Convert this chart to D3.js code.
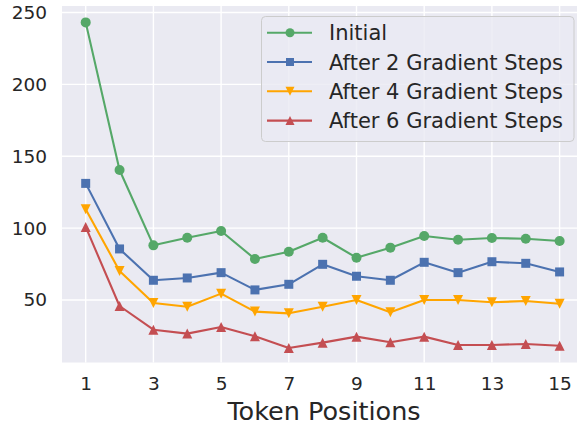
<!DOCTYPE html>
<html>
<head>
<meta charset="utf-8">
<script src="https://cdn.jsdelivr.net/npm/d3@7/dist/d3.min.js"></script>
<style>
  html, body { margin: 0; padding: 0; background: #ffffff; overflow: hidden; }
  svg { display: block; font-family: "DejaVu Sans", sans-serif; }
</style>
</head>
<body>
<svg id="chart" width="577" height="424"></svg>
<script>
// Token positions along the sequence
const positions = [1, 2, 3, 4, 5, 6, 7, 8, 9, 10, 11, 12, 13, 14, 15];

// Loss per token position at each stage of adaptation
const initial = [243.1, 140.4, 88.0, 93.3, 98.0, 78.5, 83.6, 93.3, 79.4, 86.4, 94.5, 91.9, 93.1, 92.6, 91.0];
const after2 = [131.1, 85.5, 63.7, 65.3, 69.0, 57.0, 60.9, 74.8, 66.5, 63.7, 76.2, 69.0, 76.6, 75.5, 69.5];
const after4 = [113.1, 70.2, 47.9, 45.3, 54.4, 41.9, 40.7, 45.3, 50.0, 41.4, 50.0, 50.0, 48.4, 49.3, 47.4];
const after6 = [100.8, 45.8, 29.3, 26.6, 31.2, 24.8, 16.6, 20.3, 24.5, 20.6, 24.5, 18.7, 18.7, 19.4, 18.2];

const seriesNames = ["Initial", "After 2 Gradient Steps", "After 4 Gradient Steps", "After 6 Gradient Steps"];
const xTicks = [1, 3, 5, 7, 9, 11, 13, 15];
const yTicks = [50, 100, 150, 200, 250];
const xLabel = "Token Positions";

const series = [
  { name: seriesNames[0], values: initial, color: "#55A868", marker: "circle" },
  { name: seriesNames[1], values: after2,  color: "#4C72B0", marker: "square" },
  { name: seriesNames[2], values: after4,  color: "#FFA500", marker: "down" },
  { name: seriesNames[3], values: after6,  color: "#C44E52", marker: "up" }
];

const svg = d3.select("#chart");
const plot = { left: 62, top: 6, right: 583.3, bottom: 362.5 };

const x = d3.scaleLinear().domain([0.3, 15.7]).range([plot.left, plot.right]);
const y = d3.scaleLinear().domain([6.5, 254.5]).range([plot.bottom, plot.top]);

const textColor = "#262626";

// axes background
svg.append("rect")
  .attr("x", plot.left).attr("y", plot.top)
  .attr("width", plot.right - plot.left).attr("height", plot.bottom - plot.top)
  .attr("fill", "#EAEAF2");

// grid lines
const grid = svg.append("g");
grid.selectAll("line.gy").data(yTicks).join("line")
  .attr("x1", plot.left).attr("x2", plot.right)
  .attr("y1", d => y(d)).attr("y2", d => y(d))
  .attr("stroke", "#ffffff").attr("stroke-width", 1.4);
grid.selectAll("line.gx").data(xTicks).join("line")
  .attr("y1", plot.top).attr("y2", plot.bottom)
  .attr("x1", d => x(d)).attr("x2", d => x(d))
  .attr("stroke", "#ffffff").attr("stroke-width", 1.4);

// axes (tick labels only, darkgrid style)
const yAxis = svg.append("g")
  .attr("transform", `translate(${plot.left},0)`)
  .call(d3.axisLeft(y).tickValues(yTicks).tickSize(0).tickPadding(15));
yAxis.select(".domain").remove();
yAxis.selectAll("text").attr("fill", textColor).style("font-size", "18.5px")
  .style("font-family", "DejaVu Sans");

const xAxis = svg.append("g")
  .attr("transform", `translate(0,${plot.bottom})`)
  .call(d3.axisBottom(x).tickValues(xTicks).tickSize(0).tickPadding(14));
xAxis.select(".domain").remove();
xAxis.selectAll("text").attr("fill", textColor).style("font-size", "18.5px")
  .style("font-family", "DejaVu Sans");

svg.append("text")
  .attr("x", 324).attr("y", 419.5)
  .attr("text-anchor", "middle")
  .attr("fill", textColor)
  .style("font-size", "25.5px")
  .text(xLabel);

// marker shapes
function markerPath(kind, s) {
  if (kind === "circle") return d3.symbol(d3.symbolCircle, Math.PI * s * s / 4)();
  if (kind === "square") return `M${-s/2},${-s/2}H${s/2}V${s/2}H${-s/2}Z`;
  if (kind === "down") return `M${-s/2},${-s/2}H${s/2}L0,${s/2}Z`;
  return `M${-s/2},${s/2}H${s/2}L0,${-s/2}Z`;
}
const markerSize = { circle: 10, square: 9, down: 10, up: 10 };

const line = d3.line().x((d, i) => x(positions[i])).y(d => y(d));

const marks = svg.append("g");
series.forEach(s => {
  const g = marks.append("g");
  g.append("path")
    .attr("d", line(s.values))
    .attr("fill", "none")
    .attr("stroke", s.color)
    .attr("stroke-width", 2.1)
    .attr("stroke-linejoin", "round");
  g.selectAll("path.m").data(s.values).join("path")
    .attr("class", "m")
    .attr("transform", (d, i) => `translate(${x(positions[i])},${y(d)})`)
    .attr("d", markerPath(s.marker, markerSize[s.marker]))
    .attr("fill", s.color);
});

// legend
const legend = svg.append("g");
legend.append("rect")
  .attr("x", 261.5).attr("y", 16.5)
  .attr("width", 312.5).attr("height", 125)
  .attr("rx", 4).attr("ry", 4)
  .attr("fill", "#EAEAF2").attr("fill-opacity", 0.8)
  .attr("stroke", "#CCCCCC").attr("stroke-width", 1);

series.forEach((s, i) => {
  const cy = 32.7 + i * 29.3;
  legend.append("line")
    .attr("x1", 267).attr("x2", 312)
    .attr("y1", cy).attr("y2", cy)
    .attr("stroke", s.color).attr("stroke-width", 2.1);
  legend.append("path")
    .attr("transform", `translate(290,${cy})`)
    .attr("d", markerPath(s.marker, markerSize[s.marker] - 1))
    .attr("fill", s.color);
  legend.append("text")
    .attr("x", 329).attr("y", cy)
    .attr("dy", "0.36em")
    .attr("fill", textColor)
    .style("font-size", "21px")
    .text(s.name);
});
</script>
</body>
</html>
